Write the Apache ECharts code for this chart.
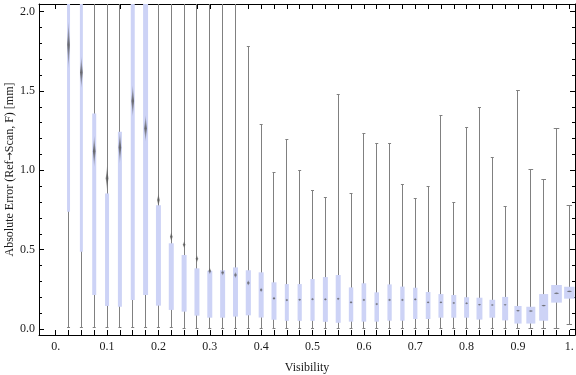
<!DOCTYPE html>
<html><head><meta charset="utf-8">
<script src="https://cdn.jsdelivr.net/npm/echarts@6/dist/echarts.min.js"></script>
<style>html,body{margin:0;padding:0;background:#fff}#c{width:576px;height:375px}</style>
</head><body><div id="c"></div>
<script>
// ---- data ----
const visibility = [0.025,0.05,0.075,0.1,0.125,0.15,0.175,0.2,0.225,0.25,0.275,0.3,0.325,0.35,0.375,0.4,0.425,0.45,0.475,0.5,
  0.525,0.55,0.575,0.6,0.625,0.65,0.675,0.7,0.725,0.75,0.775,0.8,0.825,0.85,0.875,0.9,0.925,0.95,0.975,1.0];
const whiskerLow = [0.01,0.01,0.01,0.01,0.01,0.01,0.01,0.01,0.01,0.008,0.008,0.006,0.006,0.006,0.006,0.005,0.005,0.005,0.005,0.005,
  0.005,0.005,0.005,0.005,0.005,0.005,0.005,0.005,0.005,0.005,0.005,0.005,0.005,0.005,0.005,0.005,0.005,0.005,0.003,0.03];
const q1 = [0.739,0.487,0.214,0.145,0.14,0.183,0.214,0.147,0.12,0.109,0.084,0.071,0.071,0.078,0.086,0.072,0.058,0.051,0.051,0.051,
  0.045,0.039,0.046,0.046,0.046,0.052,0.052,0.063,0.063,0.071,0.071,0.071,0.059,0.071,0.054,0.034,0.034,0.052,0.166,0.191];
const meanVal = [1.79,1.617,1.12,0.95,1.143,1.437,1.264,0.812,0.581,0.531,0.442,0.365,0.355,0.34,0.29,0.246,0.193,0.182,0.184,0.188,
  0.187,0.19,0.168,0.183,0.157,0.183,0.183,0.187,0.168,0.168,0.164,0.162,0.153,0.151,0.152,0.115,0.113,0.147,0.225,0.237];
const q3 = [2.6,2.6,1.358,0.854,1.243,2.6,2.6,0.78,0.54,0.466,0.382,0.367,0.37,0.388,0.37,0.357,0.294,0.283,0.283,0.315,
  0.327,0.34,0.262,0.288,0.231,0.281,0.267,0.26,0.233,0.22,0.214,0.2,0.197,0.184,0.202,0.145,0.14,0.22,0.277,0.266];
const whiskerHigh = [2.6,2.6,2.6,2.6,2.6,2.6,2.6,2.6,2.6,2.6,2.6,2.6,2.6,2.6,1.782,1.289,0.99,1.2,1.005,0.875,
  0.833,1.478,0.858,1.232,1.169,1.169,0.911,0.823,0.902,1.348,0.8,1.27,1.396,1.081,0.775,1.509,1.006,0.943,1.266,0.781];
// box widths (visibility units) and vertical spread of the mean marker (value units)
const boxWidth = [0.0058,0.0058,0.0078,0.0078,0.0078,0.0078,0.0097,0.0097,0.0097,0.0097,0.0097,0.0097,0.0097,0.0097,0.0100,0.0097,0.0097,0.0078,0.0082,0.0082,
  0.0097,0.0097,0.0086,0.0090,0.0088,0.0084,0.0084,0.0084,0.0091,0.0097,0.0097,0.0097,0.0115,0.0112,0.0117,0.0140,0.0175,0.0175,0.0208,0.0204];
const meanSpread = [0.147,0.1,0.1,0.08,0.1,0.1,0.084,0.042,0.03,0.023,0.024,0.022,0.02,0.02,0.018,0.015,0.012,0.01,0.01,0.01,
  0.01,0.01,0.01,0.01,0.01,0.01,0.01,0.01,0.009,0.009,0.009,0.009,0.007,0.007,0.007,0.006,0.006,0.006,0.005,0.005];
const xTickValues = [0,0.025,0.05,0.075,0.1,0.125,0.15,0.175,0.2,0.225,0.25,0.275,0.3,0.325,0.35,0.375,0.4,0.425,0.45,0.475,0.5,
  0.525,0.55,0.575,0.6,0.625,0.65,0.675,0.7,0.725,0.75,0.775,0.8,0.825,0.85,0.875,0.9,0.925,0.95,0.975,1.0];
const xLabelValues = [0,0.1,0.2,0.3,0.4,0.5,0.6,0.7,0.8,0.9,1.0];
const xLabelTexts = ['0.','0.1','0.2','0.3','0.4','0.5','0.6','0.7','0.8','0.9','1.'];
const yMajorTicks = [0,0.5,1.0,1.5,2.0];
const yLabelTexts = ['0.0','0.5','1.0','1.5','2.0'];
const yMinorTicks = [0.1,0.2,0.3,0.4,0.6,0.7,0.8,0.9,1.1,1.2,1.3,1.4,1.6,1.7,1.8,1.9];

const X_MIN = -0.0325, X_MAX = 1.011, Y_MIN = -0.038, Y_MAX = 2.048;
const FONT = '"Liberation Serif", "DejaVu Serif", serif';
const TXT = '#1a1a1a';

const data = visibility.map((v, i) => [v, whiskerLow[i], q1[i], meanVal[i], q3[i], whiskerHigh[i], boxWidth[i], meanSpread[i]]);

function renderItem(params, api) {
  const x = api.value(0);
  const pLow = api.coord([x, api.value(1)]);
  const pQ1 = api.coord([x, api.value(2)]);
  const pMean = api.coord([x, api.value(3)]);
  const pQ3 = api.coord([x, api.value(4)]);
  const pHigh = api.coord([x, api.value(5)]);
  const w = api.size([api.value(6), 0])[0];
  const h = Math.max(1.2, api.size([0, api.value(7)])[1]);
  const cx = pLow[0];
  const lx = Math.round(cx - 0.5) + 0.5;
  const capW = Math.max(3, 0.52 * w);
  const mw = Math.max(2.6, 0.5 * w);
  const ws = {stroke: '#808080', lineWidth: 1};
  const yl = Math.round(pLow[1]) + 0.5, yh = Math.round(pHigh[1]) + 0.5;
  return {
    type: 'group',
    children: [
      {type: 'line', shape: {x1: lx, y1: yl, x2: lx, y2: yh}, style: ws},
      {type: 'line', shape: {x1: cx - capW / 2, y1: yl, x2: cx + capW / 2, y2: yl}, style: ws},
      {type: 'line', shape: {x1: cx - capW / 2, y1: yh, x2: cx + capW / 2, y2: yh}, style: ws},
      {type: 'rect', shape: {x: cx - w / 2, y: pQ3[1], width: w, height: pQ1[1] - pQ3[1]}, style: {fill: '#cdd3f6'}},
      {type: 'polygon', shape: {points: [[cx, pMean[1] - h], [cx + mw / 2, pMean[1]], [cx, pMean[1] + h], [cx - mw / 2, pMean[1]]]},
        style: {fill: {type: 'linear', x: 0, y: 0, x2: 0, y2: 1, colorStops: [
          {offset: 0, color: 'rgba(85,85,85,0.15)'}, {offset: 0.5, color: 'rgba(85,85,85,0.85)'}, {offset: 1, color: 'rgba(85,85,85,0.15)'}]}}}
    ]
  };
}

const lineStyle = {color: '#000', width: 1};
function xAx(pos, labels) {
  return {
    type: 'value', position: pos, min: X_MIN, max: X_MAX,
    axisLine: {show: true, onZero: false, lineStyle},
    axisTick: {show: true, inside: true, length: 5, customValues: xTickValues, lineStyle},
    axisLabel: labels ? {show: true, customValues: xLabelValues, margin: 6, color: TXT, fontFamily: FONT, fontSize: 12,
      formatter: v => xLabelTexts[xLabelValues.findIndex(t => Math.abs(t - v) < 1e-6)] ?? ''} : {show: false},
    splitLine: {show: false},
    name: labels ? 'Visibility' : '', nameLocation: 'middle', nameGap: 27, nameMoveOverlap: false,
    nameTextStyle: {color: TXT, fontFamily: FONT, fontSize: 12}
  };
}
function yAx(pos, major, labels) {
  return {
    type: 'value', position: pos, min: Y_MIN, max: Y_MAX,
    axisLine: {show: major, onZero: false, lineStyle},
    axisTick: {show: true, inside: true, length: major ? 5 : 3, customValues: major ? yMajorTicks : yMinorTicks, lineStyle},
    axisLabel: labels ? {show: true, customValues: yMajorTicks, margin: 4, color: TXT, fontFamily: FONT, fontSize: 12,
      formatter: v => yLabelTexts[yMajorTicks.findIndex(t => Math.abs(t - v) < 1e-6)] ?? ''} : {show: false},
    splitLine: {show: false},
    name: labels ? 'Absolute Error (Ref{a|\u2192}Scan, F) [mm]' : '', nameLocation: 'middle', nameGap: 23, nameRotate: 90,
    nameMoveOverlap: false,
    nameTextStyle: {color: TXT, fontFamily: FONT, fontSize: 12,
      rich: {a: {fontFamily: '"DejaVu Sans", sans-serif', fontSize: 10, color: TXT}}}
  };
}

const chart = echarts.init(document.getElementById('c'), null, {renderer: 'canvas'});
chart.setOption({
  animation: false,
  backgroundColor: '#fff',
  grid: {left: 39, top: 4, width: 536, height: 331, containLabel: false, outerBoundsMode: 'none'},
  xAxis: [xAx('bottom', true), xAx('top', false)],
  yAxis: [yAx('left', true, true), yAx('left', false, false), yAx('right', true, false), yAx('right', false, false)],
  series: [{
    type: 'custom', xAxisIndex: 0, yAxisIndex: 0, clip: true,
    renderItem, data,
    encode: {x: 0, y: [1, 5]}
  }]
});
</script></body></html>
